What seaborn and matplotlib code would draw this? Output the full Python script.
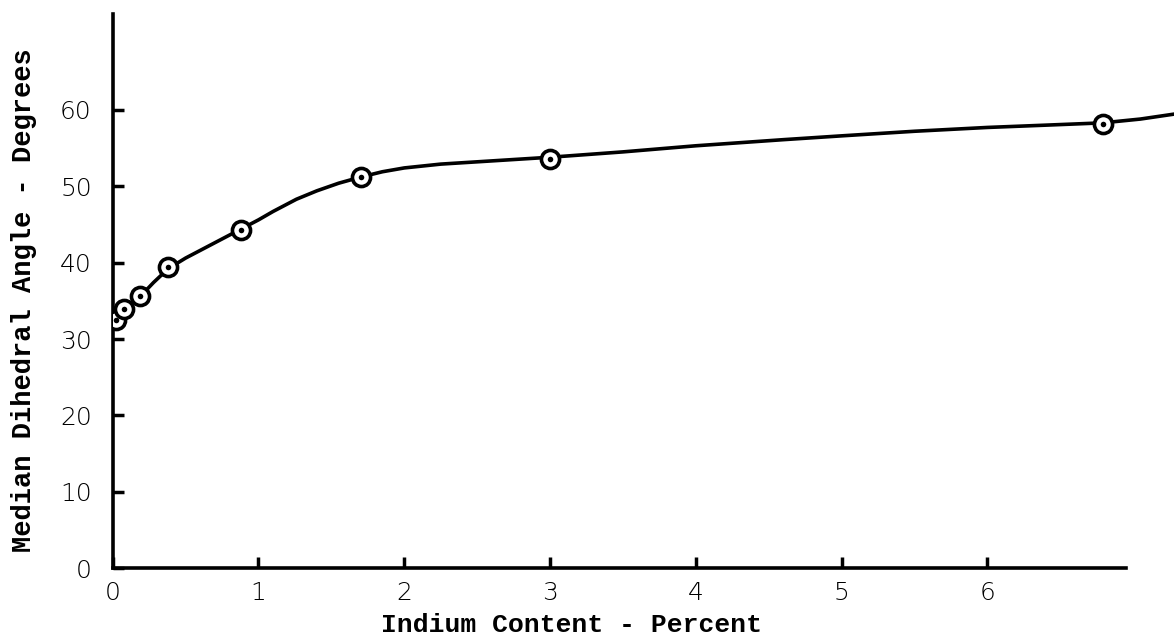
import matplotlib
matplotlib.use("Agg")
import matplotlib.pyplot as plt
import seaborn as sns

# measured points (indium %, median dihedral angle in degrees)
indium_pct = [0.02, 0.08, 0.19, 0.38, 0.88, 1.70, 3.00, 6.79]
dihedral_deg = [32.5, 33.9, 35.6, 39.4, 44.3, 51.2, 53.6, 58.2]

# hand-drawn smooth curve
curve_x = [0.0, 0.04, 0.08, 0.13, 0.19, 0.28, 0.38, 0.5, 0.6, 0.75, 0.88, 1.0, 1.1,
           1.26, 1.4, 1.55, 1.7, 1.85, 2.0, 2.25, 2.5, 2.75, 3.0, 3.5, 4.0, 4.6,
           5.0, 5.5, 6.0, 6.4, 6.79, 7.05, 7.3]
curve_y = [32.6, 33.3, 34.0, 34.7, 35.6, 37.4, 39.2, 40.6, 41.6, 43.1, 44.4, 45.6, 46.7,
           48.3, 49.4, 50.4, 51.2, 51.9, 52.4, 52.9, 53.2, 53.5, 53.8, 54.5, 55.3, 56.1,
           56.6, 57.2, 57.7, 58.0, 58.3, 58.8, 59.5]

x_ticks = [0, 1, 2, 3, 4, 5, 6]
y_ticks = [0, 10, 20, 30, 40, 50, 60]

sns.set_style("white")
plt.rcParams["font.family"] = ["Liberation Mono", "DejaVu Sans Mono"]

fig = plt.figure(figsize=(11.74, 6.37), dpi=100)
ax = fig.add_axes([0.096, 0.108, 0.904, 0.879])

sns.lineplot(x=curve_x, y=curve_y, ax=ax, color="black", linewidth=2.6, sort=False)
sns.scatterplot(x=indium_pct, y=dihedral_deg, ax=ax, s=170, marker="o",
                facecolor="white", edgecolor="black", linewidth=2.6, zorder=3)
sns.scatterplot(x=indium_pct, y=dihedral_deg, ax=ax, s=16, marker="o",
                color="black", linewidth=0, zorder=4)

ax.set_xlim(0, 7.28)
ax.set_ylim(0, 73.3)
ax.set_xticks(x_ticks)
ax.set_yticks(y_ticks)
ax.set_xticklabels([str(t) for t in x_ticks], fontsize=18, family="DejaVu Sans",
                   color="black")
ax.set_yticklabels([str(t) for t in y_ticks], fontsize=18, family="DejaVu Sans",
                   color="black")
for lab in ax.get_xticklabels() + ax.get_yticklabels():
    lab.set_fontweight("light")
ax.tick_params(axis="both", which="major", direction="in", length=8, width=2.5,
               color="black", bottom=True, left=True)
ax.tick_params(axis="x", pad=9)
ax.tick_params(axis="y", pad=15)

for side in ["top", "right"]:
    ax.spines[side].set_visible(False)
for side in ["left", "bottom"]:
    ax.spines[side].set_linewidth(2.6)
    ax.spines[side].set_color("black")
ax.spines["bottom"].set_bounds(0, 6.95)
ax.spines["left"].set_bounds(0, 72.5)

ax.set_xlabel("Indium Content - Percent", fontsize=19, color="black",
              fontweight="bold")
ax.set_ylabel("Median Dihedral Angle - Degrees", fontsize=19.5, color="black",
              fontweight="bold")
ax.xaxis.set_label_coords(0.432, -0.080)
ax.yaxis.set_label_coords(-0.071, 0.478)

fig.savefig("out.png", dpi=100)
